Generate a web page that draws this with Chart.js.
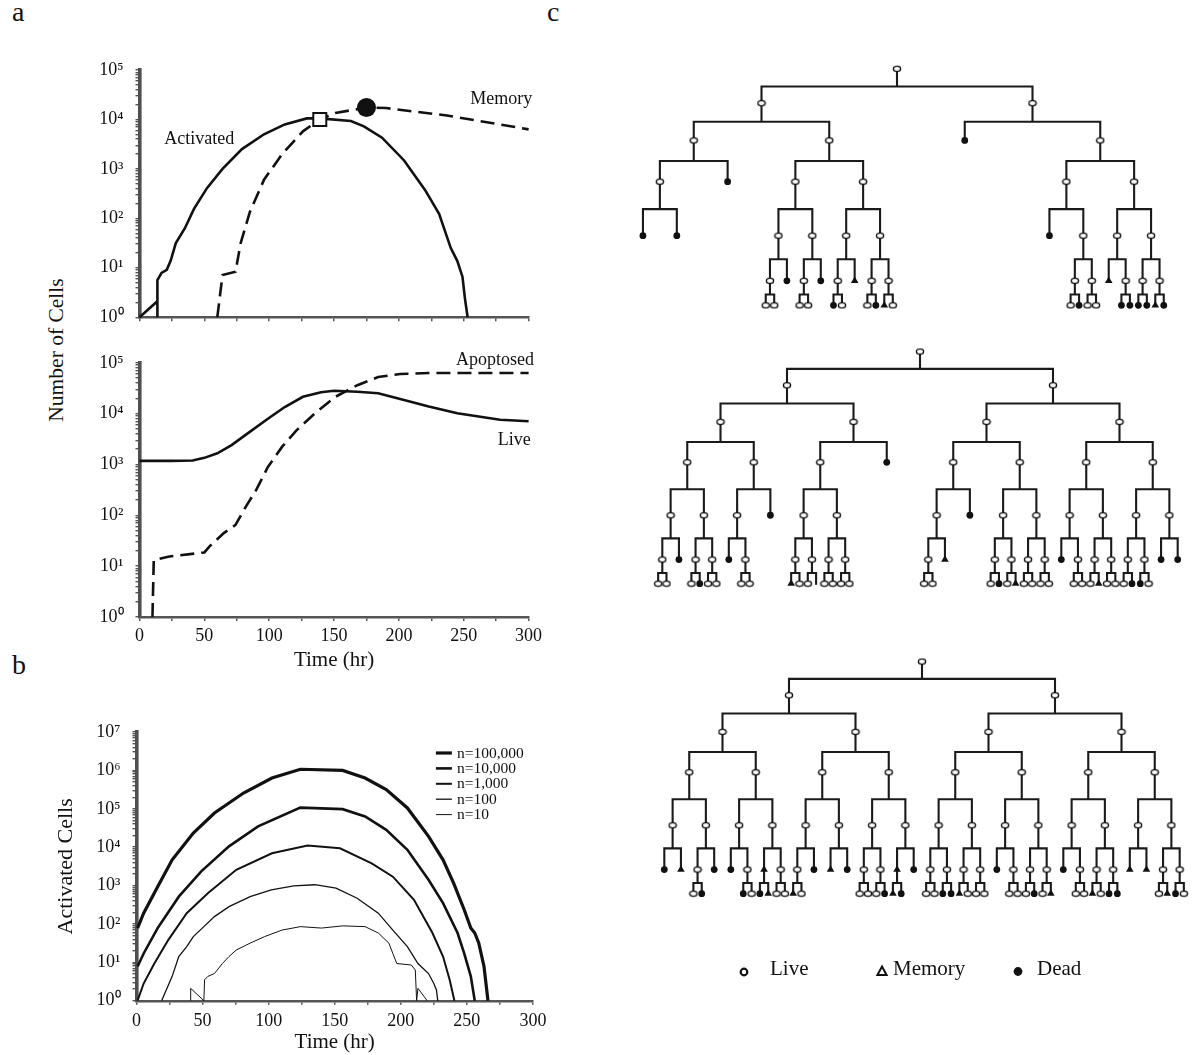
<!DOCTYPE html>
<html>
<head>
<meta charset="utf-8">
<title>Activated, memory and apoptosed cells</title>
<script src="https://cdn.jsdelivr.net/npm/chart.js@4.4.1/dist/chart.umd.min.js"></script>
<style>
  body { margin: 0; width: 1195px; height: 1055px; position: relative; background: #fff; overflow: hidden;
         font-family: "Liberation Serif", "Times New Roman", serif; color: #111; }
  canvas { position: absolute; }
  .t { position: absolute; white-space: nowrap; line-height: 1; }
</style>
</head>
<body>
<div class="t" style="left:12px;top:-2px;font-size:28px">a</div>
<div class="t" style="left:12px;top:651px;font-size:28px">b</div>
<div class="t" style="left:547px;top:-2px;font-size:28px">c</div>
<div class="t" style="left:57px;top:350px;font-size:21.5px;transform:translate(-50%,-50%) rotate(-90deg)">Number of Cells</div>

<canvas id="a1" width="560" height="300" style="left:0;top:40px"></canvas>
<canvas id="a2" width="560" height="340" style="left:0;top:340px"></canvas>
<canvas id="b1" width="570" height="355" style="left:0;top:700px"></canvas>
<canvas id="t1" width="552" height="275" style="left:621px;top:52px"></canvas>
<canvas id="t2" width="542" height="270" style="left:649px;top:335px"></canvas>
<canvas id="t3" width="542" height="270" style="left:651px;top:645px"></canvas>

<!-- legend of panel c -->
<svg style="position:absolute;left:0;top:0" width="1195" height="1055">
  <circle cx="744" cy="972" r="3.3" fill="#fff" stroke="#111" stroke-width="2.2"/>
  <polygon points="882,966.5 886.6,975 877.4,975" fill="#fff" stroke="#111" stroke-width="2"/>
  <circle cx="1018" cy="971.5" r="4.4" fill="#111"/>
</svg>
<div class="t" style="left:770px;top:958px;font-size:21px">Live</div>
<div class="t" style="left:893px;top:958px;font-size:21px">Memory</div>
<div class="t" style="left:1037px;top:958px;font-size:21px">Dead</div>

<script>
// ---------------- panel a, top: activated / memory cells ----------------
const actTime  = [0, 13.8, 13.8, 13.8, 17, 21, 24, 28, 35, 42, 52, 64, 79, 96, 112, 129, 139, 163, 173, 187, 204, 220, 231, 240, 245, 249, 251, 253]
const actCells = [1, 2.1, 1, 5.6, 7.9, 9.1, 13.8, 31.6, 63, 155, 407, 1000, 2510, 5010, 7940, 10500, 10500, 9330, 7240, 4270, 1480, 380, 123, 25, 13.8, 6.6, 2.3, 1]
const memTime  = [60, 64, 74, 78, 85, 96, 110, 126, 139, 151, 175, 190, 237, 300]
const memCells = [1, 7.1, 8.3, 31.6, 132, 603, 2000, 5750, 10000, 13500, 17400, 17000, 12000, 6300]
const actPeak = {x: 139, y: 10000}   // open square
const memPeak = {x: 175, y: 17400}   // filled circle

// ---------------- panel a, bottom: live / apoptosed ----------------
const liveTime  = [0, 24, 41, 50, 60, 71, 85, 99, 112, 126, 140, 150, 168, 184, 201, 223, 245, 278, 300]
const liveCells = [1175, 1175, 1200, 1350, 1660, 2400, 4370, 7940, 13500, 21400, 26300, 28200, 26900, 25100, 19500, 13800, 10200, 7590, 7080]
const apoTime   = [10, 11, 23, 50, 54, 65, 74, 82, 90, 99, 110, 121, 135, 151, 168, 184, 201, 223, 250, 300]
const apoCells  = [1, 13.2, 15.5, 18.6, 24.5, 44.7, 64.6, 148, 316, 891, 2240, 4680, 10000, 21400, 36300, 52500, 60300, 63100, 63100, 63100]

// ---------------- panel b: activated cells for n = 10 .. 100,000 ----------------
const bLabels = ['n=100,000', 'n=10,000', 'n=1,000', 'n=100', 'n=10']
const b1e5Time  = [0.8, 5.4, 16, 27, 43, 59, 81, 102.5, 124, 156, 173, 189, 205, 221, 232, 240, 248, 253, 256, 259, 263, 266]
const b1e5Cells = [78, 190, 933, 4680, 23400, 77600, 257000, 631000, 1070000, 1000000, 631000, 316000, 105000, 19100, 4680, 1150, 234, 78, 58, 32, 7.8, 1]
const b1e4Time  = [0.8, 5.4, 16, 32, 49, 70, 92, 124, 156, 173, 189, 205, 221, 232, 243, 248, 253, 256]
const b1e4Cells = [7.8, 17, 78, 513, 2340, 10500, 34700, 107000, 97700, 63100, 28200, 8510, 1410, 347, 58, 17, 4.3, 1]
const b1e3Time  = [0.8, 5.4, 13.5, 24, 38, 54, 75.5, 102.5, 129.5, 154, 178, 194, 210, 224, 232, 237, 240.6]
const b1e3Cells = [1, 2.8, 9.3, 38, 190, 631, 2570, 6920, 11000, 9330, 3800, 1700, 427, 58, 14.1, 3.5, 1]
const b1e2Time  = [19, 27, 32, 38, 43, 51, 59, 70, 86, 102, 119, 135, 151, 167, 183, 194, 205, 213, 221, 225, 227, 228]
const b1e2Cells = [1, 4.3, 14.1, 25.7, 46.8, 85, 155, 282, 513, 776, 977, 1050, 851, 468, 191, 69, 25.7, 9.3, 5.1, 2.8, 1.9, 1]
const b1e1Time  = [41, 41, 51, 51.5, 54, 59, 65, 70, 75.5, 86, 97, 110, 124, 140, 156, 173, 183, 191, 194, 197, 208, 211, 212, 213, 220]
const b1e1Cells = [1, 2.1, 1, 3.5, 4.3, 5.1, 9.3, 14.1, 20.9, 31.6, 46.8, 69, 85, 78, 89, 85, 58, 31.6, 17, 9.3, 8.5, 6.3, 1, 2.1, 1]

// ---------------- panel c: lineage trees ----------------
// o = live, d = dead, m = memory, - = no symbol ; x(a,b) = cell x divides into a and b
// each tree is given as its four grand-daughter subtrees
const cellTimes = [0, 35, 73, 115, 170, 216, 241]   // time of each generation's cell mark
const divTimes  = [18, 54, 94, 143, 194, 230]       // division time of each generation
const tree1 = ['o(o(d,d),d)',
               'o(o(o(o(o,o),d),o(o(o,o),d)),o(o(o(d,o),m),o(o(o,d),o(m,o))))',
               'd',
               'o(o(d,o(o(o,d),o(o,o))),o(o(m,o(d,d)),o(o(d,d),o(m,d))))']
const tree2 = ['o(o(o(o(o,o),d),o(o(o,d),o(o,o))),o(o(d,o(o,o)),d))',
               'o(o(o(o(m,o),o(o,-)),o(o(o,o),o(o,o))),d)',
               'o(o(o(o(o,o),m),d),o(o(o(o,d),o(o,m)),o(o(o,o),o(o,o))))',
               'o(o(o(d,o(o,o)),o(o(o,m),o(o,o))),o(o(o(o,d),o(d,o)),o(d,d)))']
const tree3 = ['o(o(o(d,m),o(o(o,d),d)),o(o(d,o(d,o)),o(m(d,m),o(o,o))))',
               'o(o(o(o(m,o),d),o(m,d)),o(o(o(o,o),o(o,d)),o(m(m,d),d)))',
               'o(o(o(o(o,o),o(d,d)),o(o(m,o),o(o,o))),o(o(d,o(o,o)),o(o(o,d),o(o,m))))',
               'o(o(o(d,o(o,o)),o(o(m,o),o(d,d))),o(o(m,m),o(o(o,m),o(d,o))))']

/////////////////////////////////////////////////////////////
// helpers
/////////////////////////////////////////////////////////////
Chart.defaults.font.family = '"Liberation Serif", "Times New Roman", serif'
Chart.defaults.color = '#111'

const sup = ['\u2070', '\u00b9', '\u00b2', '\u00b3', '\u2074', '\u2075', '\u2076', '\u2077']
const pts = (xs, ys) => xs.map((x, i) => ({x: x, y: ys[i]}))

function powLabel(v) {
    const e = Math.round(Math.log10(v))
    return Math.abs(v - Math.pow(10, e)) < 1e-6 * v ? '10' + sup[e] : ''
}

function timeAxis(showLabels, height, tickPad, title) {
    return {
        type: 'linear', min: 0, max: 300,
        afterFit: s => { s.height = height },
        ticks: {display: showLabels, stepSize: 25, autoSkip: false, maxRotation: 0, padding: tickPad,
                font: {size: 18}, callback: v => (v % 50 === 0 ? String(v) : '')},
        grid: {drawOnChartArea: false, tickLength: 4, color: '#555', lineWidth: 1.5},
        border: {color: '#555', width: 2.4},
        title: title || {display: false}
    }
}

function cellAxis(max, width, title) {
    return {
        type: 'logarithmic', min: 1, max: max,
        afterFit: s => { s.width = width },
        afterBuildTicks: s => {
            const ticks = []
            const top = Math.round(Math.log10(max))
            for (let e = 0; e < top; e++) {
                for (let k = 1; k < 10; k++) ticks.push({value: k * Math.pow(10, e)})
            }
            ticks.push({value: Math.pow(10, top)})
            s.ticks = ticks
        },
        ticks: {autoSkip: false, padding: 12, font: {size: 18}, callback: powLabel},
        grid: {drawOnChartArea: false, tickLength: 4, color: '#555', lineWidth: 1.4},
        border: {color: '#4f4f4f', width: 3.6},
        title: title || {display: false}
    }
}

function curve(data, dashed, width) {
    return {data: data, showLine: true, pointRadius: 0, borderColor: '#111', borderWidth: width || 2.6,
            borderDash: dashed ? [14, 7] : [], tension: 0, order: 5, clip: false}
}

// text labels placed at data positions
function notes(items) {
    return {
        id: 'notes',
        afterDraw(chart) {
            const {ctx, scales} = chart
            ctx.save()
            ctx.font = '18px "Liberation Serif"'
            ctx.fillStyle = '#111'
            ctx.textAlign = 'center'
            ctx.textBaseline = 'middle'
            items.forEach(n => ctx.fillText(n.text, scales.x.getPixelForValue(n.t), scales.y.getPixelForValue(n.v)))
            ctx.restore()
        }
    }
}

const base = {
    responsive: false, animation: false, events: [],
    plugins: {legend: {display: false}, tooltip: {enabled: false}}
}

/////////////////////////////////////////////////////////////
// panel a, top
/////////////////////////////////////////////////////////////
new Chart(document.getElementById('a1'), {
    type: 'scatter',
    data: {datasets: [
        {data: [actPeak], pointStyle: 'rect', pointRadius: 9.2, backgroundColor: '#fff', borderColor: '#111', borderWidth: 2, order: 1},
        {data: [memPeak], pointStyle: 'circle', pointRadius: 9.5, backgroundColor: '#111', borderColor: '#111', borderWidth: 0, order: 1},
        curve(pts(actTime, actCells), false),
        curve(pts(memTime, memCells), true)
    ]},
    plugins: [notes([{text: 'Memory', t: 279, v: 25700}, {text: 'Activated', t: 46, v: 3900}])],
    options: Object.assign({}, base, {
        layout: {padding: {top: 30, right: 31.4, bottom: 0, left: 0}},
        scales: {x: timeAxis(false, 15, 4), y: cellAxis(1e5, 139.5)}
    })
})

/////////////////////////////////////////////////////////////
// panel a, bottom
/////////////////////////////////////////////////////////////
new Chart(document.getElementById('a2'), {
    type: 'scatter',
    data: {datasets: [
        curve(pts(liveTime, liveCells), false),
        curve(pts(apoTime, apoCells), true)
    ]},
    plugins: [notes([{text: 'Apoptosed', t: 274, v: 112000}, {text: 'Live', t: 289, v: 3000}])],
    options: Object.assign({}, base, {
        layout: {padding: {top: 22, right: 31.4, bottom: 0, left: 0}},
        scales: {
            x: timeAxis(true, 63, 4.5, {display: true, text: 'Time (hr)', font: {size: 21}, padding: {top: 0, bottom: 7}}),
            y: cellAxis(1e5, 139.5)
        }
    })
})

/////////////////////////////////////////////////////////////
// panel b
/////////////////////////////////////////////////////////////
const bLegend = {
    id: 'bLegend',
    afterDraw(chart) {
        const {ctx, chartArea: a} = chart
        chart.data.datasets.forEach((ds, i) => {
            const y = a.top + 21 + i * 15.4
            ctx.save()
            ctx.strokeStyle = '#111'
            ctx.lineWidth = ds.borderWidth
            ctx.beginPath()
            ctx.moveTo(a.right - 97, y)
            ctx.lineTo(a.right - 81, y)
            ctx.stroke()
            ctx.fillStyle = '#111'
            ctx.font = '15.5px "Liberation Serif"'
            ctx.textBaseline = 'middle'
            ctx.fillText(ds.label, a.right - 76, y + 0.5)
            ctx.restore()
        })
    }
}

const bSeries = [[b1e5Time, b1e5Cells, 3.2], [b1e4Time, b1e4Cells, 2.6], [b1e3Time, b1e3Cells, 2],
                 [b1e2Time, b1e2Cells, 1.3], [b1e1Time, b1e1Cells, 1]]

new Chart(document.getElementById('b1'), {
    type: 'scatter',
    data: {datasets: bSeries.map((s, i) => Object.assign(curve(pts(s[0], s[1]), false, s[2]), {label: bLabels[i]}))},
    plugins: [bLegend],
    options: Object.assign({}, base, {
        layout: {padding: {top: 32, right: 37.1, bottom: 0, left: 0}},
        scales: {
            x: timeAxis(true, 54.3, 6, {display: true, text: 'Time (hr)', font: {size: 21}, padding: {top: 0, bottom: 0}}),
            y: cellAxis(1e7, 136.5, {display: true, text: 'Activated Cells', font: {size: 22}, padding: {top: 52.8, bottom: 0}})
        }
    })
})

/////////////////////////////////////////////////////////////
// panel c: lineage trees
/////////////////////////////////////////////////////////////
function parseNode(s, pos) {
    const node = {type: s[pos.i++], kids: []}
    if (s[pos.i] === '(') {
        pos.i++
        node.kids.push(parseNode(s, pos))
        pos.i++ // ,
        node.kids.push(parseNode(s, pos))
        pos.i++ // )
    }
    return node
}

function buildTree(q) {
    const str = 'o(o(' + q[0] + ',' + q[1] + '),o(' + q[2] + ',' + q[3] + '))'
    const root = parseNode(str, {i: 0})
    const out = {lines: [], live: [], dead: [], mem: []}
    const gap = {x: null, y: null}
    ;(function walk(n, d, x) {
        const p = {x: x, y: cellTimes[d]}
        if (n.type === 'o') out.live.push(p)
        else if (n.type === 'd') out.dead.push(p)
        else if (n.type === 'm') out.mem.push(p)
        if (n.kids.length) {
            const off = 0.25 / Math.pow(2, d)
            const yb = divTimes[d], yc = cellTimes[d + 1]
            out.lines.push({x: x, y: cellTimes[d]}, {x: x, y: yb}, gap)
            out.lines.push({x: x - off, y: yc}, {x: x - off, y: yb}, {x: x + off, y: yb}, {x: x + off, y: yc}, gap)
            walk(n.kids[0], d + 1, x - off)
            walk(n.kids[1], d + 1, x + off)
        }
    })(root, 0, 0.5)
    return out
}

// small open ellipse used for live cells
const liveDot = document.createElement('canvas')
liveDot.width = 10
liveDot.height = 8
const lc = liveDot.getContext('2d')
lc.fillStyle = '#fff'
lc.strokeStyle = '#111'
lc.lineWidth = 1.4
lc.beginPath()
lc.ellipse(5, 4, 3.6, 2.6, 0, 0, Math.PI * 2)
lc.fill()
lc.stroke()

function treeChart(id, q) {
    const t = buildTree(q)
    return new Chart(document.getElementById(id), {
        type: 'scatter',
        data: {datasets: [
            {data: t.live, pointStyle: liveDot, pointRadius: 4, order: 1, clip: false},
            {data: t.dead, pointStyle: 'circle', pointRadius: 3.4, backgroundColor: '#111', borderWidth: 0, order: 1, clip: false},
            {data: t.mem, pointStyle: 'triangle', pointRadius: 4.4, backgroundColor: '#111', borderColor: '#111', borderWidth: 0, order: 1, clip: false},
            {data: t.lines, showLine: true, pointRadius: 0, borderColor: '#1a1a1a', borderWidth: 2.1,
             borderCapStyle: 'square', spanGaps: false, order: 5, clip: false}
        ]},
        options: Object.assign({}, base, {
            layout: {padding: 0},
            scales: {
                x: {display: false, min: 0, max: 1},
                y: {display: false, min: -12, max: 258, reverse: true}
            }
        })
    })
}

treeChart('t1', tree1)
treeChart('t2', tree2)
treeChart('t3', tree3)
</script>
</body>
</html>
